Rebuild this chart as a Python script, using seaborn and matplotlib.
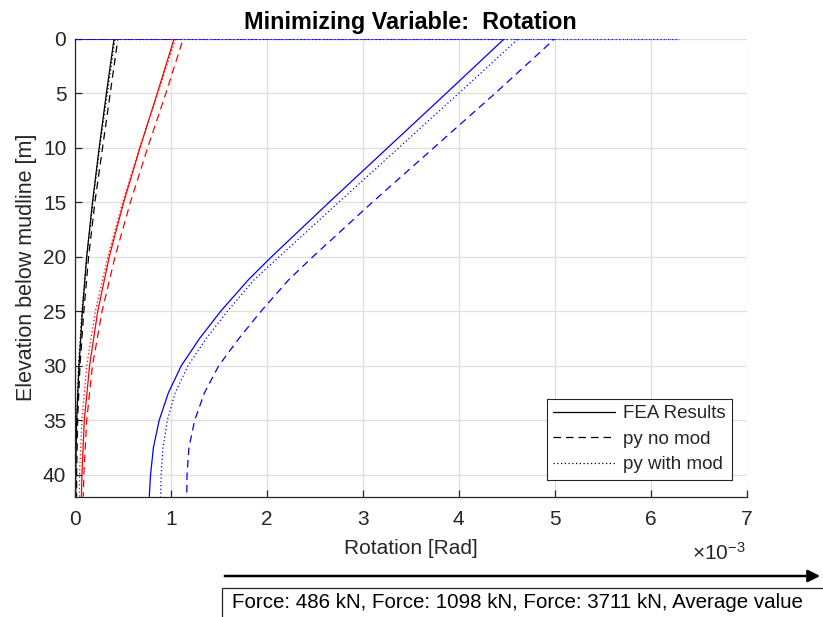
import numpy as np
import pandas as pd
import matplotlib
matplotlib.use("Agg")
import matplotlib.pyplot as plt
import seaborn as sns
from matplotlib.patches import FancyArrowPatch, Rectangle

# ---------------- data (rotation in units of 1e-3 rad) ----------------
elev_coarse = [0, 0, 5, 10, 15, 20, 25, 30, 35, 40, 42]
elev_fine = [0, 0, 5, 10, 15, 20, 22.1, 25, 27.5, 30, 32.5, 35, 37.5, 40, 42]

# Force 486 kN (black)
blk_fea = [0, 0.41, 0.33, 0.255, 0.185, 0.125, 0.08, 0.045, 0.02, 0.01, 0.01]
blk_nomod = [0, 0.45, 0.37, 0.29, 0.21, 0.145, 0.095, 0.055, 0.03, 0.02, 0.02]
blk_mod = [0, 0.42, 0.34, 0.26, 0.19, 0.125, 0.075, 0.04, 0.02, 0.01, 0.01]

# Force 1098 kN (red)
red_fea = [0, 1.035, 0.86, 0.68, 0.51, 0.36, 0.24, 0.155, 0.10, 0.075, 0.07]
red_nomod = [0, 1.13, 0.95, 0.76, 0.58, 0.42, 0.285, 0.185, 0.125, 0.095, 0.09]
red_mod = [0, 1.05, 0.865, 0.675, 0.50, 0.345, 0.215, 0.125, 0.075, 0.05, 0.05]

# Force 3711 kN (blue)
blu_fea = [0, 4.475, 3.87, 3.26, 2.65, 2.05, 1.81, 1.52, 1.30, 1.11, 0.975, 0.88, 0.82, 0.79, 0.777]
blu_nomod = [0, 5.00, 4.38, 3.74, 3.10, 2.48, 2.23, 1.94, 1.71, 1.50, 1.35, 1.25, 1.19, 1.17, 1.167]
blu_mod = [6.29, 4.62, 4.00, 3.375, 2.75, 2.13, 1.87, 1.59, 1.37, 1.18, 1.045, 0.965, 0.92, 0.90, 0.895]
blu_mod_surface = [0, 6.29]

legend_labels = ["FEA Results", "py no mod", "py with mod"]
title = "Minimizing Variable:  Rotation"
xlabel = "Rotation [Rad]"
ylabel = "Elevation below mudline [m]"
annotation = "Force: 486 kN, Force: 1098 kN, Force: 3711 kN, Average value"
xticks = [0, 1, 2, 3, 4, 5, 6, 7]
yticks = [0, 5, 10, 15, 20, 25, 30, 35, 40]

# ---------------- style ----------------
sns.set_theme(style="white")
plt.rcParams["font.family"] = ["Liberation Sans", "DejaVu Sans"]
plt.rcParams["mathtext.fontset"] = "custom"
plt.rcParams["mathtext.rm"] = "Liberation Sans"

W, H = 823, 617
fig = plt.figure(figsize=(W / 100, H / 100), dpi=100)
ax = fig.add_axes([74.7 / W, 1 - 496.6 / H, 672 / W, 457.8 / H])

lw = 0.9
styles = {
    "solid": dict(linestyle="-"),
    "dash": dict(dashes=(6, 4)),
    "dot": dict(dashes=(1, 2)),
}

def draw(x, y, color, kind, label=None):
    df = pd.DataFrame({"rot": x, "elev": y})
    kw = dict(styles[kind])
    sns.lineplot(data=df, x="rot", y="elev", sort=False, orient="y",
                 color=color, linewidth=lw, ax=ax, label=label,
                 estimator=None, **kw)

draw(blk_fea, elev_coarse, "black", "solid", legend_labels[0])
draw(blk_nomod, elev_coarse, "black", "dash", legend_labels[1])
draw(blk_mod, elev_coarse, "black", "dot", legend_labels[2])
draw(red_fea, elev_coarse, "#ff0000", "solid")
draw(red_nomod, elev_coarse, "#ff0000", "dash")
draw(red_mod, elev_coarse, "#ff0000", "dot")
draw(blu_fea, elev_fine, "#0000ff", "solid")
draw(blu_nomod, elev_fine, "#0000ff", "dash")
draw(blu_mod_surface, [0, 0], "#0000ff", "dot")
draw(blu_mod, elev_fine, "#0000ff", "dot")

ax.set_xlim(0, 7)
ax.set_ylim(42, 0)
ax.set_xticks(xticks)
ax.set_yticks(yticks)
ax.set_xticklabels([str(t) for t in xticks])
ax.set_yticklabels([str(t) for t in yticks])

dark = "#262626"
ax.grid(True, color="#dfdfdf", linewidth=0.9)
ax.set_axisbelow(True)
for s in ["top", "right"]:
    ax.spines[s].set_visible(False)
for s in ["left", "bottom"]:
    ax.spines[s].set_color(dark)
    ax.spines[s].set_linewidth(0.9)
ax.tick_params(axis="both", direction="in", length=5, width=0.9, colors=dark,
               labelsize=15, left=True, bottom=True, pad=6)
ax.tick_params(axis="x", pad=10)

ax.set_title(title, fontsize=16.8, fontweight="bold", pad=7, color="black")
ax.set_xlabel(xlabel, fontsize=15, color=dark, labelpad=7)
ax.set_ylabel(ylabel, fontsize=15.5, color=dark, labelpad=4)

fig.text(746 / W, 1 - 560 / H, r"$\times\mathregular{10^{-3}}$", ha="right",
         va="baseline", fontsize=15, color=dark)

leg = ax.legend(loc="lower right", bbox_to_anchor=(657 / 672, 16.6 / 457.8),
                fontsize=13.5, frameon=True, fancybox=False, edgecolor=dark,
                framealpha=1, handlelength=3.3, borderpad=0.35,
                labelspacing=0.45, handletextpad=0.4, borderaxespad=0)
leg.get_frame().set_linewidth(0.8)

# bottom arrow and annotation box
arrow = FancyArrowPatch((222 / W, 1 - 576 / H), (823 / W, 1 - 576 / H),
                        transform=fig.transFigure, arrowstyle="-|>",
                        mutation_scale=18, color="black", linewidth=1.8)
fig.add_artist(arrow)
rect = Rectangle((222 / W, 1 - 640 / H), 620 / W, 52 / H,
                 transform=fig.transFigure, fill=False, edgecolor=dark,
                 linewidth=0.9, clip_on=False)
fig.add_artist(rect)
fig.text(232 / W, 1 - 603 / H, annotation, ha="left", va="center",
         fontsize=14.8, color="black")

fig.savefig("out.png", dpi=100)
